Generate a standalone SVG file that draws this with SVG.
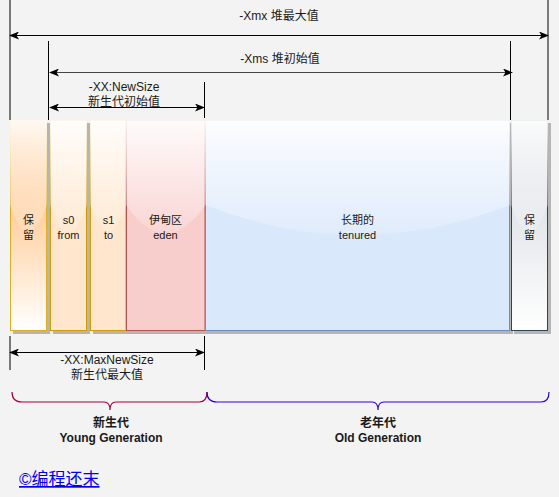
<svg xmlns="http://www.w3.org/2000/svg" width="559" height="497" viewBox="0 0 559 497">
<style>
text{font-family:"Liberation Sans","Noto Sans CJK SC",sans-serif;fill:#1a1a1a;}
.t12{font-size:12px;text-anchor:middle;}
.t11{font-size:11px;text-anchor:middle;}
.b{font-size:12px;font-weight:bold;text-anchor:middle;}
.ln{stroke:#000;stroke-width:1;fill:none;}
.arr{stroke:#000;stroke-width:1;fill:none;marker-start:url(#ah);marker-end:url(#ah);}
.sh{fill:#b5b5b5;}
</style>
<defs>
<marker id="ah" viewBox="0 0 10 8" refX="9" refY="4" markerWidth="10" markerHeight="8" markerUnits="userSpaceOnUse" orient="auto-start-reverse">
<path d="M0,0 L10,4 L0,8 L2.5,4 Z" fill="#000"/>
</marker>
<linearGradient id="gl" x1="0" y1="0" x2="0" y2="1">
<stop offset="0" stop-color="#fff" stop-opacity="0.92"/>
<stop offset="1" stop-color="#fff" stop-opacity="0.15"/>
</linearGradient>
<linearGradient id="go" x1="0" y1="0" x2="0" y2="1">
<stop offset="0" stop-color="#ffb56a"/>
<stop offset="0.35" stop-color="#ffc890"/>
<stop offset="1" stop-color="#ffffff"/>
</linearGradient>
<linearGradient id="gg" x1="0" y1="0" x2="0" y2="1">
<stop offset="0" stop-color="#ccd2d9"/>
<stop offset="1" stop-color="#ffffff"/>
</linearGradient>
</defs>
<rect width="559" height="497" fill="#f3f3f3"/>

<g id="connectors">
<line class="ln" x1="10" y1="0" x2="10" y2="120"/>
<line class="ln" x1="548" y1="0" x2="548" y2="120"/>
<line class="ln" x1="48.5" y1="41" x2="48.5" y2="120"/>
<line class="ln" x1="510.5" y1="41" x2="510.5" y2="120"/>
<line class="ln" x1="204.5" y1="82" x2="204.5" y2="118"/>
<line class="arr" x1="10" y1="35.5" x2="548" y2="35.5"/>
<line class="arr" x1="50" y1="72.5" x2="512" y2="72.5" style="stroke:#444"/>
<line class="arr" x1="50" y1="107.5" x2="204" y2="107.5"/>
<line class="ln" x1="10" y1="336" x2="10" y2="370"/>
<line class="ln" x1="204.5" y1="336" x2="204.5" y2="370"/>
<line class="arr" x1="10" y1="352.5" x2="204" y2="352.5"/>
<path d="M12,392 Q12,402 22,402 L104,402 Q110,402 110,410 Q110,402 116,402 L199,402 Q207,402 207,392" fill="none" stroke="#a50040" stroke-width="1.2"/>
<path d="M207,392 Q207,402 217,402 L372,402 Q378,402 378,410 Q378,402 384,402 L541,402 Q549,402 549,392" fill="none" stroke="#3700cc" stroke-width="1.2"/>
</g>

<g id="labels-top">
<text class="t12" x="279" y="20">-Xmx 堆最大值</text>
<text class="t12" x="280" y="63">-Xms  堆初始值</text>
<text class="t12" x="124" y="91">-XX:NewSize</text>
<text class="t12" x="124" y="106">新生代初始值</text>
</g>

<g id="reserve-left">
<rect class="sh" x="13" y="123" width="37" height="211"/>
<rect x="10.5" y="120.5" width="36" height="210" fill="url(#go)" stroke="#e0ae1e"/>
<path d="M10,120 L47,120 L47,205 Q28.5,258 10,205 Z" fill="url(#gl)"/>
<text class="t11" x="28.5" y="224">保</text>
<text class="t11" x="28.5" y="239">留</text>
</g>

<g id="s0">
<rect class="sh" x="53" y="123" width="37" height="211"/>
<rect x="50.5" y="120.5" width="36" height="210" fill="#ffe6cc" stroke="#d79b00"/>
<path d="M50,120 L87,120 L87,205 Q68.5,258 50,205 Z" fill="url(#gl)"/>
<text class="t11" x="68.5" y="224">s0</text>
<text class="t11" x="68.5" y="239">from</text>
</g>

<g id="s1">
<rect class="sh" x="93" y="123" width="36" height="211"/>
<rect x="90.5" y="120.5" width="35.5" height="210" fill="#ffe6cc" stroke="#d79b00"/>
<path d="M90,120 L126.5,120 L126.5,205 Q108.5,258 90,205 Z" fill="url(#gl)"/>
<text class="t11" x="108.5" y="224">s1</text>
<text class="t11" x="108.5" y="239">to</text>
</g>

<g id="eden">
<rect class="sh" x="129" y="123" width="79" height="211"/>
<rect x="126.5" y="120.5" width="78.5" height="210" fill="#f8cecc" stroke="#b85450"/>
<path d="M126,120 L205.5,120 L205.5,205 Q165.75,262 126,205 Z" fill="url(#gl)"/>
<text class="t11" x="165.5" y="224">伊甸区</text>
<text class="t11" x="165.5" y="239">eden</text>
</g>

<g id="tenured">
<rect class="sh" x="208" y="123" width="305" height="211"/>
<rect x="205.5" y="120.5" width="304" height="210" fill="#dae8fc" stroke="#6c8ebf"/>
<path d="M205,120 L510,120 L510,205 Q357.5,265 205,205 Z" fill="url(#gl)"/>
<text class="t11" x="357.5" y="224">长期的</text>
<text class="t11" x="357.5" y="239">tenured</text>
</g>

<g id="reserve-right">
<rect class="sh" x="514" y="123" width="37" height="211"/>
<rect x="511.5" y="120.5" width="36" height="210" fill="url(#gg)" stroke="#2f4558"/>
<path d="M511,120 L548,120 L548,205 Q529.5,258 511,205 Z" fill="url(#gl)"/>
<text class="t11" x="529.5" y="224">保</text>
<text class="t11" x="529.5" y="239">留</text>
</g>

<g id="labels-bottom">
<text class="t12" x="107" y="364">-XX:MaxNewSize</text>
<text class="t12" x="107" y="379">新生代最大值</text>
<text class="b" x="111" y="427">新生代</text>
<text class="b" x="111" y="442">Young Generation</text>
<text class="b" x="378" y="427">老年代</text>
<text class="b" x="378" y="442">Old Generation</text>
<text x="19" y="485" style="font-size:17px;fill:#0000ee;text-decoration:underline;">©编程还末</text>
</g>
</svg>
